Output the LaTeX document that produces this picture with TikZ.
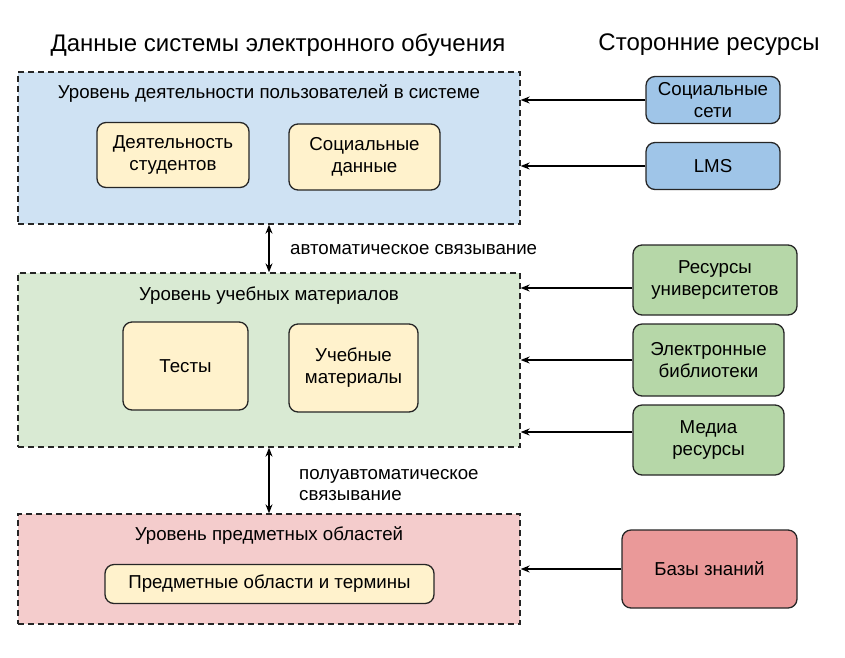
\documentclass[tikz,border=0pt]{standalone}
\usepackage{fontspec}
\setmainfont{Liberation Sans}
\usetikzlibrary{arrows.meta}
\definecolor{lblue}{HTML}{CFE2F3}
\definecolor{lgreen}{HTML}{D9EAD3}
\definecolor{lpink}{HTML}{F4CCCC}
\definecolor{lyellow}{HTML}{FFF2CC}
\definecolor{mblue}{HTML}{9FC5E8}
\definecolor{mgreen}{HTML}{B6D7A8}
\definecolor{mred}{HTML}{EA9999}
\tikzset{
  layer/.style={draw=black!85, dashed, dash pattern=on 6pt off 4pt, line width=1.3pt, minimum width=502pt, inner sep=0pt},
  inbox/.style={draw=black!85, line width=1.3pt, rounded corners=9pt, fill=lyellow, align=center, font=\fontsize{18.7}{22}\selectfont, inner sep=0pt},
  extbox/.style={draw=black!85, line width=1.3pt, rounded corners=9pt, align=center, font=\fontsize{18.7}{22}\selectfont, inner sep=0pt},
  lbl/.style={font=\fontsize{18.7}{22}\selectfont, inner sep=0pt},
  ttl/.style={font=\fontsize{24}{28}\selectfont, inner sep=0pt},
  arr/.style={-{Stealth[length=9pt,width=7pt]}, line width=1.3pt},
  darr/.style={{Stealth[length=9pt,width=7pt]}-{Stealth[length=9pt,width=7pt]}, line width=1.3pt}
}
\begin{document}
\begin{tikzpicture}[x=1pt,y=-1pt]
\useasboundingbox (0,0) rectangle (845,657);
% titles
\node[ttl] (t1) at (278,45) {Данные системы электронного обучения};
\node[ttl] (t2) at (709,45) {Сторонние ресурсы};
% layers
\node[layer, fill=lblue, minimum height=152pt] (blue) at (269,148) {};
\node[layer, fill=lgreen, minimum height=174pt] (green) at (269,360) {};
\node[layer, fill=lpink, minimum height=110pt] (pink) at (269,569) {};
\node[lbl] (bl) at (269,93) {Уровень деятельности пользователей в системе};
\node[lbl] (gl) at (269,296) {Уровень учебных материалов};
\node[lbl] (pl) at (269,535) {Уровень предметных областей};
% inner boxes
\node[inbox, minimum width=152pt, minimum height=65pt] (act) at (173,155) {Деятельность\\студентов};
\node[inbox, minimum width=151pt, minimum height=66pt] (soc) at (364.5,157) {Социальные\\данные};
\node[inbox, minimum width=125pt, minimum height=88pt] (tests) at (185.5,366) {Тесты};
\node[inbox, minimum width=129pt, minimum height=88pt] (mats) at (353.5,368) {Учебные\\материалы};
\node[inbox, minimum width=329pt, minimum height=39pt] (subj) at (269.5,584) {Предметные области и термины};
% external
\node[extbox, fill=mblue, minimum width=134pt, minimum height=47pt] (net) at (713,100) {Социальные\\сети};
\node[extbox, fill=mblue, minimum width=134pt, minimum height=47pt] (lms) at (713,166) {LMS};
\node[extbox, fill=mgreen, minimum width=164pt, minimum height=70pt] (univ) at (715,280) {Ресурсы\\университетов};
\node[extbox, fill=mgreen, minimum width=151pt, minimum height=72pt] (lib) at (708.5,360) {Электронные\\библиотеки};
\node[extbox, fill=mgreen, minimum width=151pt, minimum height=70pt] (media) at (708.5,440) {Медиа\\ресурсы};
\node[extbox, fill=mred, minimum width=175pt, minimum height=78pt] (kb) at (709.5,569) {Базы знаний};
\coordinate (univp) at ([yshift=-8pt]univ.west);
\coordinate (mediap) at ([yshift=8pt]media.west);
% arrows from external
\draw[arr] (net.west) -- (blue.east |- net.west);
\draw[arr] (lms.west) -- (blue.east |- lms.west);
\draw[arr] (univp) -- (green.east |- univp);
\draw[arr] (lib.west) -- (green.east |- lib.west);
\draw[arr] (mediap) -- (green.east |- mediap);
\draw[arr] (kb.west) -- (pink.east |- kb.west);
% vertical links
\draw[darr] (blue.south) -- (green.north);
\draw[darr] (green.south) -- (pink.north);
\node[lbl, anchor=west] (a1) at (290,250) {автоматическое связывание};
\node[lbl, anchor=west, align=left, font=\fontsize{18.7}{21}\selectfont] (a2) at (299,485) {полуавтоматическое\\связывание};
\end{tikzpicture}
\end{document}
